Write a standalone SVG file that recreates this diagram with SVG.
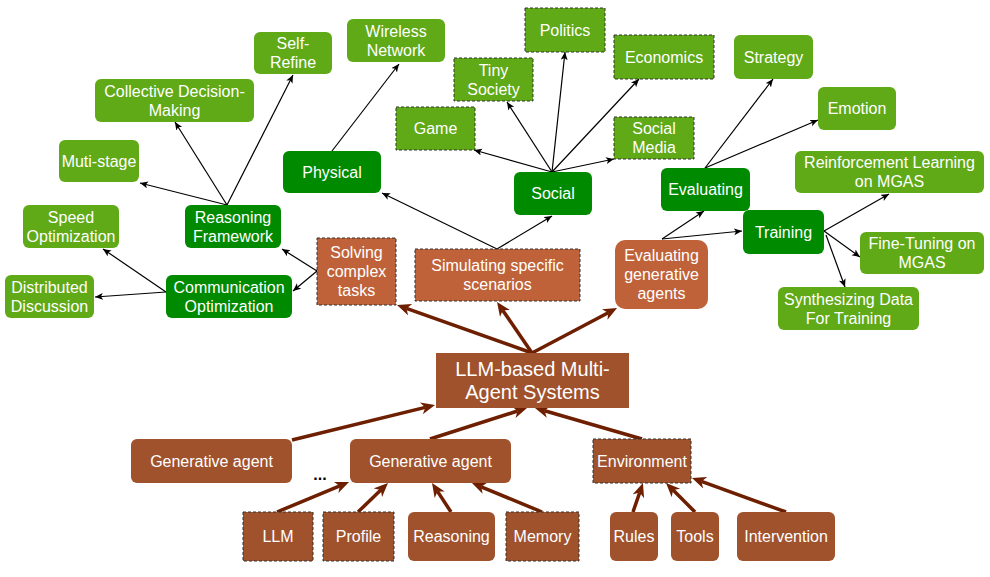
<svg xmlns="http://www.w3.org/2000/svg" width="990" height="577" viewBox="0 0 990 577">
<style>
text{font-family:"Liberation Sans",Arial,sans-serif;font-size:16px;fill:#ffffff;text-anchor:middle;dominant-baseline:central}
.lg{fill:#60A917}
.dg{fill:#008A00}
.or{fill:#BF6239}
.br{fill:#A0522D}
.dash{stroke:#333333;stroke-width:1;stroke-dasharray:3 2}
.thin{stroke:#000000;stroke-width:1.2;fill:none;marker-end:url(#ah)}
.thick{stroke:#6D1F00;stroke-width:3.5;fill:none;marker-end:url(#bh)}
.big{font-size:20px}
.dots{fill:#000000;font-size:16px;font-weight:bold}
</style>
<defs>
<marker id="ah" markerUnits="userSpaceOnUse" markerWidth="10" markerHeight="8" refX="8" refY="3.5" orient="auto">
<path d="M0,0 L8,3.5 L0,7 L2,3.5 z" fill="#000000"/>
</marker>
<marker id="bh" markerUnits="userSpaceOnUse" markerWidth="16" markerHeight="14" refX="4" refY="6" orient="auto">
<path d="M0,0 L14,6 L0,12 L4,6 z" fill="#6D1F00"/>
</marker>
</defs>
<rect width="990" height="577" fill="#ffffff"/>
<g id="connectors">
<line class="thin" x1="227" y1="205" x2="140" y2="183"/>
<line class="thin" x1="227" y1="205" x2="175" y2="122"/>
<line class="thin" x1="227" y1="205" x2="293" y2="75"/>
<line class="thin" x1="166" y1="292" x2="95" y2="297"/>
<line class="thin" x1="166" y1="292" x2="103" y2="249"/>
<line class="thin" x1="317" y1="271" x2="282" y2="249"/>
<line class="thin" x1="317" y1="271" x2="293" y2="291"/>
<line class="thin" x1="332" y1="151" x2="399" y2="64"/>
<line class="thin" x1="497" y1="249" x2="382" y2="193"/>
<line class="thin" x1="497" y1="249" x2="552" y2="216"/>
<line class="thin" x1="552" y1="172" x2="474" y2="150"/>
<line class="thin" x1="552" y1="172" x2="507" y2="102"/>
<line class="thin" x1="552" y1="172" x2="565" y2="52"/>
<line class="thin" x1="552" y1="172" x2="639" y2="79"/>
<line class="thin" x1="552" y1="172" x2="614" y2="159"/>
<line class="thin" x1="705" y1="168" x2="773" y2="79"/>
<line class="thin" x1="705" y1="168" x2="818" y2="120"/>
<line class="thin" x1="662" y1="239" x2="704" y2="211"/>
<line class="thin" x1="662" y1="239" x2="742" y2="231"/>
<line class="thin" x1="824" y1="231" x2="889" y2="194"/>
<line class="thin" x1="824" y1="231" x2="860" y2="257"/>
<line class="thin" x1="826" y1="235" x2="845" y2="287"/>
<line class="thick" x1="532" y1="353" x2="406.4" y2="308.4"/>
<line class="thick" x1="532" y1="353" x2="502.7" y2="310.2"/>
<line class="thick" x1="532" y1="353" x2="608.2" y2="312.7"/>
<line class="thick" x1="292" y1="440" x2="425.3" y2="407.4"/>
<line class="thick" x1="430" y1="439" x2="517.5" y2="411"/>
<line class="thick" x1="642" y1="439" x2="544.6" y2="410.8"/>
<line class="thick" x1="277" y1="512" x2="339.8" y2="485.9"/>
<line class="thick" x1="358" y1="512" x2="380.8" y2="490"/>
<line class="thick" x1="451" y1="512" x2="437.5" y2="491.4"/>
<line class="thick" x1="542" y1="512" x2="481.2" y2="486.8"/>
<line class="thick" x1="633" y1="512" x2="639.7" y2="492.5"/>
<line class="thick" x1="695" y1="512" x2="673.1" y2="490.1"/>
<line class="thick" x1="786" y1="512" x2="701.4" y2="481.4"/>
</g>
<g id="self-refine"><rect class="lg" x="254" y="32" width="78" height="42" rx="6"/><text x="293" y="43.5">Self-</text><text x="293" y="62.5">Refine</text></g>
<g id="collective"><rect class="lg" x="95" y="79" width="159" height="43" rx="6"/><text x="174.5" y="91">Collective Decision-</text><text x="174.5" y="110">Making</text></g>
<g id="muti-stage"><rect class="lg" x="59" y="140" width="80" height="42" rx="6"/><text x="99" y="161">Muti-stage</text></g>
<g id="wireless"><rect class="lg" x="347" y="19" width="98" height="43" rx="6"/><text x="396" y="31">Wireless</text><text x="396" y="50">Network</text></g>
<g id="strategy"><rect class="lg" x="734" y="35" width="79" height="44" rx="6"/><text x="773.5" y="57">Strategy</text></g>
<g id="emotion"><rect class="lg" x="818" y="87" width="78" height="43" rx="6"/><text x="857" y="108.5">Emotion</text></g>
<g id="rl"><rect class="lg" x="795" y="151" width="189" height="42" rx="6"/><text x="889.5" y="162.5">Reinforcement Learning</text><text x="889.5" y="181.5">on MGAS</text></g>
<g id="finetune"><rect class="lg" x="860" y="232" width="124" height="42" rx="6"/><text x="922" y="243.5">Fine-Tuning on</text><text x="922" y="262.5">MGAS</text></g>
<g id="synth"><rect class="lg" x="778" y="287" width="141" height="43" rx="6"/><text x="848.5" y="299">Synthesizing Data</text><text x="848.5" y="318">For Training</text></g>
<g id="speed"><rect class="lg" x="23" y="205" width="96" height="43" rx="6"/><text x="71" y="217">Speed</text><text x="71" y="236">Optimization</text></g>
<g id="distributed"><rect class="lg" x="5" y="275" width="89" height="43" rx="6"/><text x="49.5" y="287">Distributed</text><text x="49.5" y="306">Discussion</text></g>
<g id="politics"><rect class="lg dash" x="525" y="8" width="80" height="44"/><text x="565" y="30">Politics</text></g>
<g id="tiny-society"><rect class="lg dash" x="454" y="58" width="79" height="43"/><text x="493.5" y="70">Tiny</text><text x="493.5" y="89">Society</text></g>
<g id="game"><rect class="lg dash" x="396" y="107" width="79" height="43"/><text x="435.5" y="128.5">Game</text></g>
<g id="economics"><rect class="lg dash" x="614" y="35" width="100" height="44"/><text x="664" y="57">Economics</text></g>
<g id="social-media"><rect class="lg dash" x="614" y="117" width="80" height="42"/><text x="654" y="128.5">Social</text><text x="654" y="147.5">Media</text></g>
<g id="physical"><rect class="dg" x="283" y="151" width="98" height="42" rx="6"/><text x="332" y="172">Physical</text></g>
<g id="social"><rect class="dg" x="514" y="172" width="78" height="43" rx="6"/><text x="553" y="193.5">Social</text></g>
<g id="evaluating"><rect class="dg" x="661" y="168" width="89" height="43" rx="6"/><text x="705.5" y="189.5">Evaluating</text></g>
<g id="training"><rect class="dg" x="743" y="210" width="81" height="44" rx="6"/><text x="783.5" y="232">Training</text></g>
<g id="reasoning-framework"><rect class="dg" x="185" y="205" width="96" height="43" rx="6"/><text x="233" y="217">Reasoning</text><text x="233" y="236">Framework</text></g>
<g id="comm-opt"><rect class="dg" x="166" y="275" width="126" height="43" rx="6"/><text x="229" y="287">Communication</text><text x="229" y="306">Optimization</text></g>
<g id="solving"><rect class="or dash" x="317" y="238" width="79" height="67"/><text x="356.5" y="252.5">Solving</text><text x="356.5" y="271.5">complex</text><text x="356.5" y="290.5">tasks</text></g>
<g id="simulating"><rect class="or dash" x="415" y="249" width="165" height="52"/><text x="497.5" y="265.5">Simulating specific</text><text x="497.5" y="284.5">scenarios</text></g>
<g id="eval-gen"><rect class="or" x="615" y="240" width="93" height="69" rx="10"/><text x="661.5" y="255.5">Evaluating</text><text x="661.5" y="274.5">generative</text><text x="661.5" y="293.5">agents</text></g>
<g id="llm-mas"><rect class="br" x="436" y="353" width="193" height="55"/><text class="big" x="532.5" y="369">LLM-based Multi-</text><text class="big" x="532.5" y="392">Agent Systems</text></g>
<g id="gen-agent-1"><rect class="br" x="131" y="439" width="161" height="44" rx="6"/><text x="211.5" y="461">Generative agent</text></g>
<g id="gen-agent-2"><rect class="br" x="350" y="439" width="161" height="44" rx="6"/><text x="430.5" y="461">Generative agent</text></g>
<g id="ellipsis"><text class="dots" x="320" y="474">...</text></g>
<g id="environment"><rect class="br dash" x="593" y="439" width="98" height="44"/><text x="642" y="461">Environment</text></g>
<g id="llm"><rect class="br dash" x="243" y="512" width="70" height="49"/><text x="278" y="536.5">LLM</text></g>
<g id="profile"><rect class="br dash" x="323" y="512" width="71" height="49"/><text x="358.5" y="536.5">Profile</text></g>
<g id="reasoning"><rect class="br" x="408" y="512" width="87" height="49" rx="6"/><text x="451.5" y="536.5">Reasoning</text></g>
<g id="memory"><rect class="br dash" x="506" y="512" width="73" height="49"/><text x="542.5" y="536.5">Memory</text></g>
<g id="rules"><rect class="br" x="610" y="512" width="48" height="49" rx="6"/><text x="634" y="536.5">Rules</text></g>
<g id="tools"><rect class="br" x="671" y="512" width="48" height="49" rx="6"/><text x="695" y="536.5">Tools</text></g>
<g id="intervention"><rect class="br" x="737" y="512" width="98" height="49" rx="6"/><text x="786" y="536.5">Intervention</text></g>
</svg>
